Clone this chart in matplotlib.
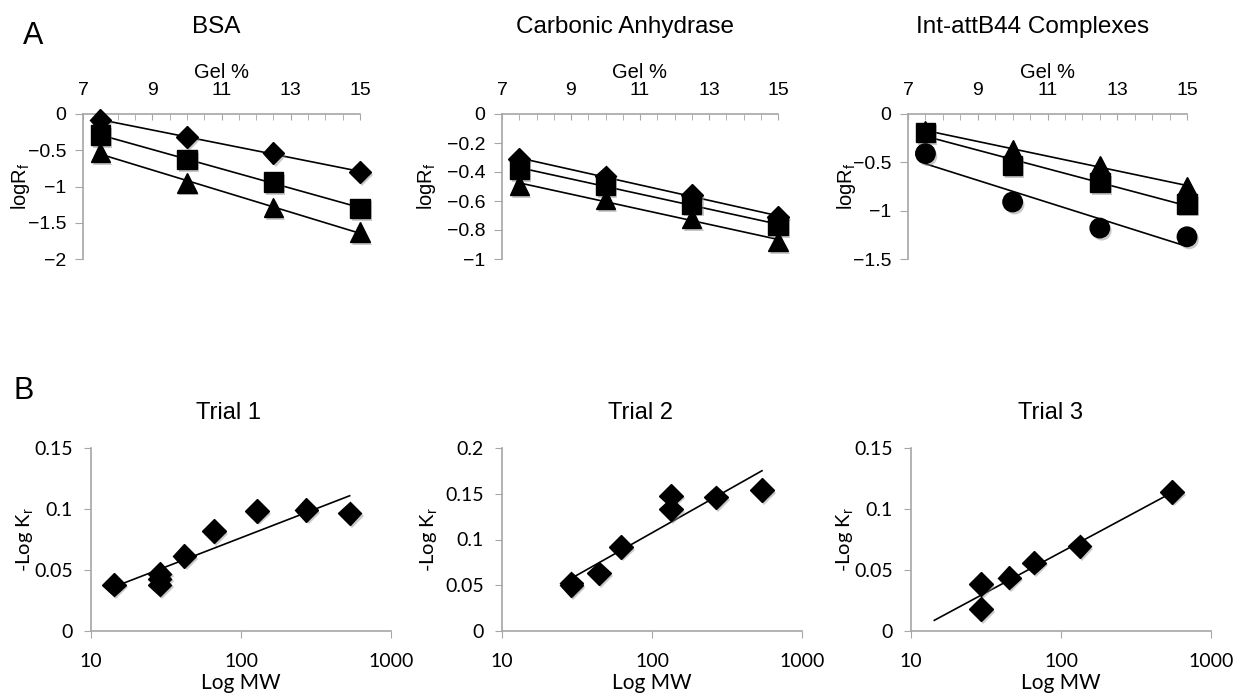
import numpy as np
import matplotlib
matplotlib.use("Agg")
import matplotlib.pyplot as plt
import matplotlib.patheffects as pe
from matplotlib.ticker import FixedLocator, NullLocator, FuncFormatter

plt.rcParams["font.family"] = ["Liberation Sans", "DejaVu Sans"]
plt.rcParams["mathtext.fontset"] = "custom"
plt.rcParams["mathtext.rm"] = "Liberation Sans"

# ---- panel A: log Rf vs gel percentage ----
gel_pct = [7.5, 10, 12.5, 15]

bsa_diamond = [-0.08, -0.32, -0.54, -0.80]
bsa_square = [-0.29, -0.63, -0.94, -1.30]
bsa_triangle = [-0.53, -0.95, -1.29, -1.63]

ca_diamond = [-0.31, -0.43, -0.56, -0.71]
ca_square = [-0.38, -0.49, -0.62, -0.77]
ca_triangle = [-0.49, -0.59, -0.72, -0.88]

int_triangle = [-0.17, -0.37, -0.53, -0.75]
int_square = [-0.19, -0.53, -0.71, -0.93]
int_circle = [-0.41, -0.91, -1.18, -1.27]

# ---- panel B: -log Kr vs molecular weight ----
t1_mw = [14.2, 28.7, 28.7, 28.7, 42, 66, 128, 273, 530]
t1_kr = [0.038, 0.047, 0.043, 0.038, 0.0616, 0.082, 0.0985, 0.0994, 0.0964]

t2_mw = [29, 29, 44.5, 62, 134, 134, 267, 541]
t2_kr = [0.052, 0.050, 0.063, 0.092, 0.148, 0.133, 0.146, 0.154]

t3_mw = [29.3, 29.3, 45.3, 65.8, 133, 550]
t3_kr = [0.0383, 0.0178, 0.0438, 0.0561, 0.0693, 0.114]
t3_fit_span = [14.3, 550]

W, H = 1234, 696
fig = plt.figure(figsize=(W / 100, H / 100), dpi=100)
spine_col = "#a6a6a6"
shadow = [pe.SimplePatchShadow(offset=(1.5, -2), shadow_rgbFace="#888888", alpha=0.45), pe.Normal()]


def box(l, t, r, b):
    return [l / W, 1 - b / H, (r - l) / W, (b - t) / H]


def ftext(x, y, s, **kw):
    fig.text(x / W, 1 - y / H, s, ha="center", va="center", **kw)


fmt_num = FuncFormatter(lambda v, p: f"{v:g}".replace("-", "\u2212"))


def gel_panel(rect, series, yticks, title, tx, ylab_x):
    ax = fig.add_axes(box(*rect))
    for vals, mk, ms in series:
        k, b = np.polyfit(gel_pct, vals, 1)
        xs = np.array([gel_pct[0], gel_pct[-1]])
        ax.plot(xs, k * xs + b, color="black", lw=1.2, zorder=2, clip_on=False)
        ax.plot(gel_pct, vals, ls="none", marker=mk, ms=ms, color="black",
                zorder=3, path_effects=shadow, clip_on=False)
    ax.set_xlim(7, 15)
    ax.set_ylim(yticks[0], 0)
    ax.xaxis.tick_top()
    ax.xaxis.set_label_position("top")
    ax.set_xticks([7, 9, 11, 13, 15])
    ax.xaxis.set_minor_locator(FixedLocator(np.arange(7, 15.01, 0.5)))
    ax.set_yticks(yticks)
    ax.yaxis.set_major_formatter(fmt_num)
    ax.tick_params(axis="x", which="both", direction="in", length=4, color=spine_col,
                   labelsize=14, pad=11)
    ax.tick_params(axis="y", direction="out", length=6, color=spine_col, labelsize=14, pad=6)
    for s in ("right", "bottom"):
        ax.spines[s].set_visible(False)
    for s in ("left", "top"):
        ax.spines[s].set_color(spine_col)
        ax.spines[s].set_linewidth(1.2)
    ax.set_xlabel("Gel %", fontsize=14.5, labelpad=3)
    ftext(ylab_x, (rect[1] + rect[3]) / 2, r"logR$_\mathrm{f}$", fontsize=14.5, rotation=90)
    ftext(tx, 27, title, fontsize=17.5)
    return ax


gel_panel((83, 114, 360, 259),
          [(bsa_diamond, "D", 11), (bsa_square, "s", 14), (bsa_triangle, "^", 14)],
          [-2, -1.5, -1, -0.5, 0], "BSA", 216, 20)
gel_panel((502, 114, 778, 259),
          [(ca_diamond, "D", 11), (ca_square, "s", 14), (ca_triangle, "^", 14)],
          [-1, -0.8, -0.6, -0.4, -0.2, 0], "Carbonic Anhydrase", 625, 426)
gel_panel((908, 114, 1187, 259),
          [(int_triangle, "^", 14), (int_square, "s", 14), (int_circle, "o", 14)],
          [-1.5, -1, -0.5, 0], "Int-attB44 Complexes", 1033, 846)


def trial_panel(rect, mw, kr, yticks, title, tx, ylab_x, span=None):
    ax = fig.add_axes(box(*rect))
    lx = np.log10(mw)
    k, b = np.polyfit(lx, kr, 1)
    if span is None:
        span = [min(mw), max(mw)]
    xs = np.array(span, dtype=float)
    ax.plot(xs, k * np.log10(xs) + b, color="black", lw=1.2, zorder=2)
    ax.plot(mw, kr, ls="none", marker="D", ms=12, color="black", zorder=3,
            path_effects=shadow, clip_on=False)
    ax.set_xscale("log")
    ax.set_xlim(10, 1000)
    ax.set_ylim(0, yticks[-1])
    ax.set_xticks([10, 100, 1000])
    ax.xaxis.set_minor_locator(NullLocator())
    ax.xaxis.set_major_formatter(FuncFormatter(lambda v, p: f"{v:g}"))
    ax.set_yticks(yticks)
    ax.yaxis.set_major_formatter(fmt_num)
    for lab in ax.get_xticklabels() + ax.get_yticklabels():
        lab.set_family("Lato")
    ax.tick_params(axis="both", direction="out", length=5, color=spine_col, labelsize=14)
    ax.tick_params(axis="y", pad=8)
    ax.tick_params(axis="x", pad=11)
    for s in ("right", "top"):
        ax.spines[s].set_visible(False)
    for s in ("left", "bottom"):
        ax.spines[s].set_color(spine_col)
        ax.spines[s].set_linewidth(1.2)
    ax.set_xlabel("Log MW", fontsize=15, family="Lato", labelpad=2)
    ftext(ylab_x, (rect[1] + rect[3]) / 2, r"-Log K$_\mathrm{r}$", fontsize=14.5,
          rotation=90, family="Lato")
    ftext(tx, 413, title, fontsize=17)
    return ax


trial_panel((91, 448, 391, 631), t1_mw, t1_kr, [0, 0.05, 0.1, 0.15], "Trial 1", 228, 25)
trial_panel((502, 448, 802, 631), t2_mw, t2_kr, [0, 0.05, 0.1, 0.15, 0.2], "Trial 2", 640, 429)
trial_panel((911, 448, 1211, 631), t3_mw, t3_kr, [0, 0.05, 0.1, 0.15], "Trial 3", 1050, 845,
            span=t3_fit_span)

ftext(33, 36, "A", fontsize=22)
ftext(24, 391, "B", fontsize=22)

fig.savefig("out.png", dpi=100)
